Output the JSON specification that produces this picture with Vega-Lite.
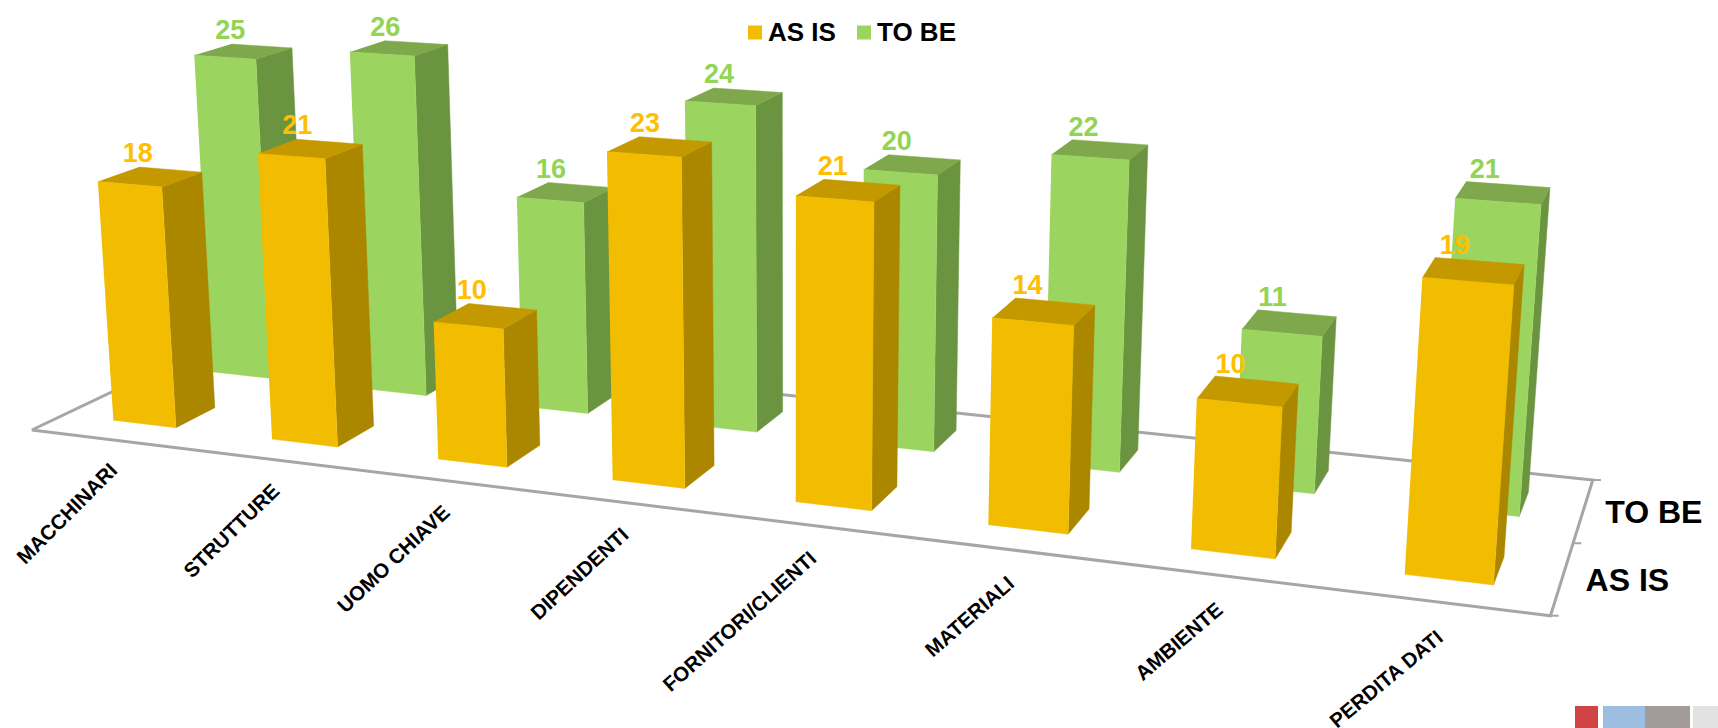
{
  "$schema": "https://vega.github.io/schema/vega-lite/v6.json",
  "width": 1718,
  "height": 728,
  "padding": 0,
  "autosize": {"type": "none"},
  "background": "white",
  "config": {"view": {"stroke": null}, "font": "Liberation Sans"},
  "datasets": {
    "bars": [
      {"category": "MACCHINARI", "series": "AS IS", "value": 18},
      {"category": "MACCHINARI", "series": "TO BE", "value": 25},
      {"category": "STRUTTURE", "series": "AS IS", "value": 21},
      {"category": "STRUTTURE", "series": "TO BE", "value": 26},
      {"category": "UOMO CHIAVE", "series": "AS IS", "value": 10},
      {"category": "UOMO CHIAVE", "series": "TO BE", "value": 16},
      {"category": "DIPENDENTI", "series": "AS IS", "value": 23},
      {"category": "DIPENDENTI", "series": "TO BE", "value": 24},
      {"category": "FORNITORI/CLIENTI", "series": "AS IS", "value": 21},
      {"category": "FORNITORI/CLIENTI", "series": "TO BE", "value": 20},
      {"category": "MATERIALI", "series": "AS IS", "value": 14},
      {"category": "MATERIALI", "series": "TO BE", "value": 22},
      {"category": "AMBIENTE", "series": "AS IS", "value": 10},
      {"category": "AMBIENTE", "series": "TO BE", "value": 11},
      {"category": "PERDITA DATI", "series": "AS IS", "value": 19},
      {"category": "PERDITA DATI", "series": "TO BE", "value": 21}
    ],
    "frame": [{"corner": 0}, {"corner": 1}, {"corner": 2}, {"corner": 3}, {"corner": 4}],
    "depthTicks": [{"row": 0}, {"row": 1}, {"row": 2}],
    "swatches": [
      {"seq": 0, "swatch": "red", "size": 23, "strip": "s"},
      {"seq": 1, "swatch": "gap", "size": 5, "strip": "s"},
      {"seq": 2, "swatch": "blue", "size": 42, "strip": "s"},
      {"seq": 3, "swatch": "taupe", "size": 45, "strip": "s"},
      {"seq": 4, "swatch": "gap", "size": 3, "strip": "s"},
      {"seq": 5, "swatch": "light", "size": 25, "strip": "s"}
    ]
  },
  "params": [
    {"name": "k", "value": 0.00125},
    {"name": "hw", "value": 0.025},
    {"name": "hd", "value": 0.098}
  ],
  "encoding": {
    "x": {"field": "sx", "type": "quantitative", "scale": {"domain": [0, 1718]}, "axis": null},
    "y": {"field": "sy", "type": "quantitative", "scale": {"domain": [0, 728], "reverse": true}, "axis": null}
  },
  "resolve": {"scale": {"x": "independent", "y": "independent", "fill": "independent"}},
  "layer": [
    {
      "data": {"name": "frame"},
      "transform": [
        {"calculate": "[0,1,1,0,0][datum.corner]", "as": "P"},
        {"calculate": "[0,0,1,1,0][datum.corner]", "as": "Q"},
        {"calculate": "1-0.18424*datum.P+0.11907*datum.Q", "as": "sw"},
        {"calculate": "(1233*datum.P+224.2*datum.Q+31.8)/datum.sw", "as": "sx"},
        {"calculate": "(72.3*datum.P-53.54*datum.Q+430)/datum.sw", "as": "sy"}
      ],
      "mark": {"type": "line", "stroke": "#A6A6A6", "strokeWidth": 3},
      "encoding": {"order": {"field": "corner"}}
    },
    {
      "data": {"name": "depthTicks"},
      "transform": [
        {"calculate": "datum.row/2", "as": "Q"},
        {"calculate": "0.8158+0.11907*datum.Q", "as": "sw"},
        {"calculate": "(1265+224.2*datum.Q)/datum.sw", "as": "sx"},
        {"calculate": "(502.3-53.54*datum.Q)/datum.sw", "as": "sy"},
        {"calculate": "datum.sx+8", "as": "tx"}
      ],
      "mark": {"type": "rule", "stroke": "#A6A6A6", "strokeWidth": 2},
      "encoding": {"x2": {"field": "tx"}}
    },
    {
      "data": {"name": "bars"},
      "transform": [
        {"calculate": "indexof(['MACCHINARI','STRUTTURE','UOMO CHIAVE','DIPENDENTI','FORNITORI/CLIENTI','MATERIALI','AMBIENTE','PERDITA DATI'], datum.category)", "as": "idx"},
        {"calculate": "(datum.idx+0.5)/8+0.002", "as": "pc"},
        {"calculate": "datum.series==='AS IS'?0.25:0.75", "as": "qc"},
        {"calculate": "['front','side','top']", "as": "face"},
        {"flatten": ["face"]},
        {"calculate": "[0,1,2,3]", "as": "corner"},
        {"flatten": ["corner"]},
        {"calculate": "datum.pc+hw*(datum.face==='side'?1:[-1,1,1,-1][datum.corner])", "as": "P"},
        {"calculate": "datum.qc+hd*(datum.face==='front'?-1:datum.face==='side'?[-1,1,1,-1][datum.corner]:[-1,-1,1,1][datum.corner])", "as": "Q"},
        {"calculate": "datum.value*(datum.face==='top'?1:[0,0,1,1][datum.corner])", "as": "Z"},
        {"calculate": "1-0.18424*datum.P+0.11907*datum.Q-k*datum.Z", "as": "sw"},
        {"calculate": "(1233*datum.P+224.2*datum.Q+31.8-k*datum.Z*793)/datum.sw", "as": "sx"},
        {"calculate": "(72.3*datum.P-53.54*datum.Q+430-k*datum.Z*10900)/datum.sw", "as": "sy"}
      ],
      "encoding": {"order": {"field": "corner"}, "detail": {"field": "category"}},
      "layer": [
        {
          "transform": [{"filter": "datum.series==='TO BE' && datum.face==='side'"}],
          "mark": {"type": "line", "fill": "#6B9440", "stroke": "#6B9440", "strokeWidth": 0.5}
        },
        {
          "transform": [{"filter": "datum.series==='TO BE' && datum.face==='top'"}],
          "mark": {"type": "line", "fill": "#7EA84B", "stroke": "#7EA84B", "strokeWidth": 0.5}
        },
        {
          "transform": [{"filter": "datum.series==='TO BE' && datum.face==='front'"}],
          "mark": {"type": "line", "stroke": "#9BD55F", "strokeWidth": 0.5},
          "encoding": {
            "fill": {
              "field": "series",
              "type": "nominal",
              "scale": {"domain": ["AS IS", "TO BE"], "range": ["#F2BC00", "#9BD55F"]},
              "legend": {
                "title": null,
                "orient": "none",
                "legendX": 742,
                "legendY": 19.5,
                "direction": "horizontal",
                "columns": 2,
                "columnPadding": 15,
                "symbolType": "square",
                "symbolSize": 196,
                "symbolStrokeWidth": 0,
                "labelFontSize": 26,
                "labelFontWeight": "bold",
                "labelFont": "Liberation Sans",
                "labelColor": "black",
                "labelOffset": 0
              }
            }
          }
        },
        {
          "transform": [{"filter": "datum.series==='AS IS' && datum.face==='side'"}],
          "mark": {"type": "line", "fill": "#AB8700", "stroke": "#AB8700", "strokeWidth": 0.5}
        },
        {
          "transform": [{"filter": "datum.series==='AS IS' && datum.face==='top'"}],
          "mark": {"type": "line", "fill": "#C49900", "stroke": "#C49900", "strokeWidth": 0.5}
        },
        {
          "transform": [{"filter": "datum.series==='AS IS' && datum.face==='front'"}],
          "mark": {"type": "line", "fill": "#F2BC00", "stroke": "#F2BC00", "strokeWidth": 0.5}
        }
      ]
    },
    {
      "data": {"name": "bars"},
      "transform": [
        {"calculate": "indexof(['MACCHINARI','STRUTTURE','UOMO CHIAVE','DIPENDENTI','FORNITORI/CLIENTI','MATERIALI','AMBIENTE','PERDITA DATI'], datum.category)", "as": "idx"},
        {"calculate": "(datum.idx+0.5)/8+0.001-hw+2*hw*0.035*datum.idx", "as": "P"},
        {"calculate": "(datum.series==='AS IS'?0.25:0.75)+hd", "as": "Q"},
        {"calculate": "1-0.18424*datum.P+0.11907*datum.Q-k*datum.value", "as": "sw"},
        {"calculate": "(1233*datum.P+224.2*datum.Q+31.8-k*datum.value*793)/datum.sw", "as": "sx"},
        {"calculate": "(72.3*datum.P-53.54*datum.Q+430-k*datum.value*10900)/datum.sw", "as": "sy"}
      ],
      "mark": {"type": "text", "font": "Liberation Sans", "fontWeight": "bold", "fontSize": 27, "baseline": "alphabetic", "align": "center", "dy": -5},
      "encoding": {
        "text": {"field": "value", "type": "quantitative"},
        "color": {"condition": {"test": "datum.series==='AS IS'", "value": "#FFBE00"}, "value": "#92D455"}
      }
    },
    {
      "data": {"name": "bars"},
      "transform": [
        {"filter": "datum.series==='AS IS'"},
        {"calculate": "indexof(['MACCHINARI','STRUTTURE','UOMO CHIAVE','DIPENDENTI','FORNITORI/CLIENTI','MATERIALI','AMBIENTE','PERDITA DATI'], datum.category)", "as": "idx"},
        {"calculate": "(datum.idx+0.5)/8+0.0369-0.00389*datum.idx", "as": "P"},
        {"calculate": "-0.2", "as": "Q"},
        {"calculate": "315+0.75*datum.idx", "as": "rot"},
        {"calculate": "1-0.18424*datum.P+0.11907*datum.Q", "as": "sw"},
        {"calculate": "(1233*datum.P+224.2*datum.Q+31.8)/datum.sw", "as": "sx"},
        {"calculate": "(72.3*datum.P-53.54*datum.Q+430)/datum.sw", "as": "sy"}
      ],
      "mark": {"type": "text", "font": "Liberation Sans", "fontWeight": "bold", "fontSize": 20.5, "align": "right", "baseline": "middle", "color": "black"},
      "encoding": {
        "text": {"field": "category", "type": "nominal"},
        "angle": {"field": "rot", "type": "quantitative", "scale": null}
      }
    },
    {
      "data": {"name": "bars"},
      "transform": [
        {"filter": "datum.category==='MACCHINARI'"},
        {"calculate": "datum.series==='AS IS'?0.25:0.75", "as": "Q"},
        {"calculate": "1-0.18424*1.013+0.11907*datum.Q", "as": "sw"},
        {"calculate": "(1233*1.013+224.2*datum.Q+31.8)/datum.sw", "as": "sx"},
        {"calculate": "(72.3*1.013-53.54*datum.Q+430)/datum.sw", "as": "sy"}
      ],
      "mark": {"type": "text", "font": "Liberation Sans", "fontWeight": "bold", "fontSize": 32, "align": "left", "baseline": "middle", "color": "black"},
      "encoding": {"text": {"field": "series", "type": "nominal"}}
    },
    {
      "data": {"name": "swatches"},
      "transform": [
        {"stack": "size", "groupby": ["strip"], "sort": [{"field": "seq", "order": "ascending"}], "as": ["x0", "x1"]},
        {"filter": "datum.swatch!=='gap'"}
      ],
      "mark": {"type": "rect"},
      "encoding": {
        "x": {"field": "x0", "type": "quantitative", "scale": {"domain": [0, 143], "range": [1575, 1718]}, "axis": null},
        "x2": {"field": "x1"},
        "y": {"field": "strip", "type": "nominal", "scale": {"range": [706, 728], "paddingInner": 0, "paddingOuter": 0}, "axis": null},
        "fill": {
          "field": "swatch",
          "type": "nominal",
          "scale": {"domain": ["red", "blue", "taupe", "light"], "range": ["#D24444", "#9DBDE1", "#A39A9A", "#E2E2E2"]},
          "legend": null
        }
      }
    }
  ]
}
